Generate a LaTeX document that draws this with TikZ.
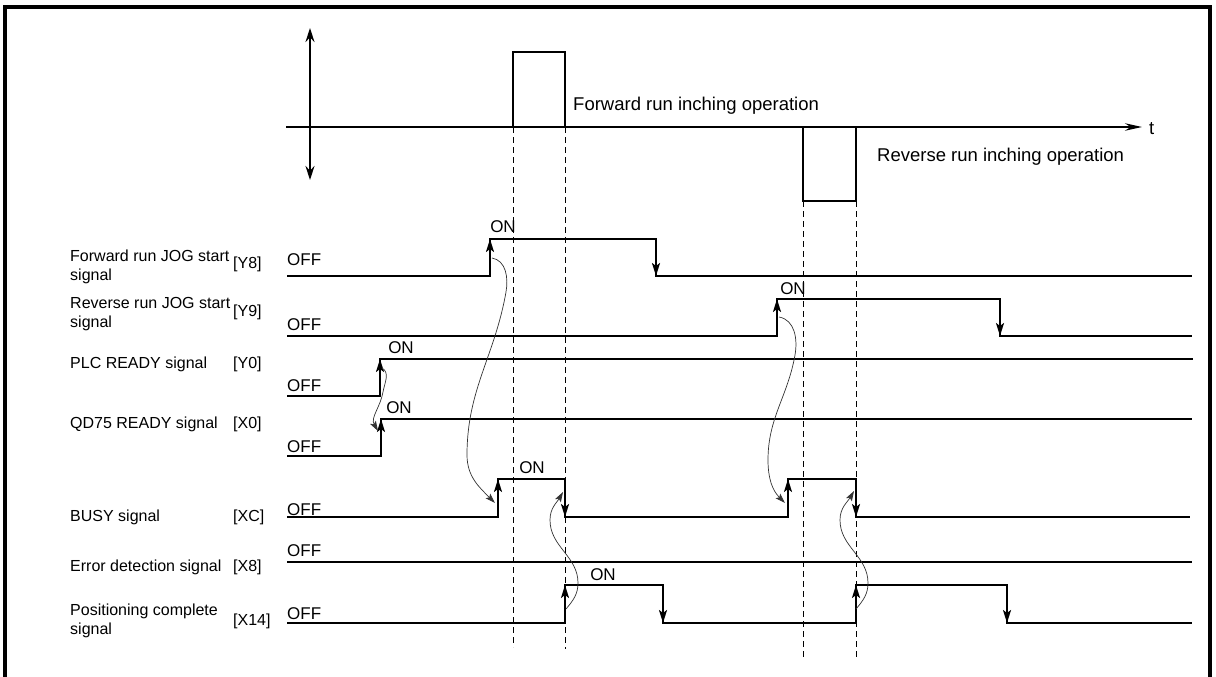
\documentclass[tikz,border=0pt]{standalone}
\usepackage{fontspec}
\setmainfont{Liberation Sans}
\usetikzlibrary{arrows.meta}
\begin{document}
\begin{tikzpicture}[x=1pt,y=1pt,
  frame/.style={line width=4pt},
  wave/.style={line width=2pt, line join=miter},
  edgearrow/.style={line width=2pt, -{Stealth[length=13pt,width=8pt,inset=3pt]}},
  axisline/.style={line width=1.3pt},
  pulse/.style={line width=1.8pt},
  guide/.style={line width=0.9pt, dash pattern=on 6pt off 4pt},
  cause/.style={line width=0.7pt, draw=black!80, -{Stealth[length=10pt,width=6.5pt,inset=2pt]}},
  lbl/.style={font=\fontsize{16}{19}\selectfont, inner sep=0pt, anchor=base west},
  brk/.style={font=\fontsize{16}{19}\selectfont, inner sep=0pt, anchor=west},
  offl/.style={font=\fontsize{17}{20}\selectfont, inner sep=0pt, anchor=base west},
  onl/.style={font=\fontsize{17}{20}\selectfont, inner sep=0pt},
  caption/.style={font=\fontsize{18.5}{22}\selectfont, inner sep=0pt, anchor=west},
]
\useasboundingbox (0,0) rectangle (1216,-677);

% frame
\draw[frame] (5,-677) -- (5,-7) -- (1210,-7) -- (1210,-677);

% axes
\draw[axisline, {Stealth[length=14pt,width=9pt]}-{Stealth[length=14pt,width=9pt]}] (310,-28) -- (310,-180);
\coordinate (axstart) at (286,-127);
\node[caption] (t) at (1149,-129) {t};
\draw[axisline, -{Stealth[length=17pt,width=7.5pt]}] (axstart) -- (1142,-127);

% pulses
\draw[pulse] (513,-127) -- (513,-52) -- (565,-52) -- (565,-127);
\draw[pulse] (803,-127) -- (803,-201) -- (856,-201) -- (856,-127);
\node[caption] (fwdop) at (573,-106) {Forward run inching operation};
\node[caption] (revop) at (877,-157) {Reverse run inching operation};

% guides
\draw[guide] (513,-127) -- (513,-647);
\draw[guide] (565,-127) -- (565,-649);
\draw[guide] (803,-201) -- (803,-657);
\draw[guide] (856,-201) -- (856,-657);

% left labels
\node[lbl] (l1a) at (70,-261) {Forward run JOG start};
\node[lbl] (l1b) at (70,-280) {signal};
\node[brk] (b1) at (233,-264) {[Y8]};
\node[lbl] (l2a) at (70,-308) {Reverse run JOG start};
\node[lbl] (l2b) at (70,-327) {signal};
\node[brk] (b2) at (233,-312) {[Y9]};
\node[lbl] (l3) at (70,-368) {PLC READY signal};
\node[lbl] (b3) at (233,-368) {[Y0]};
\node[lbl] (l4) at (70,-428) {QD75 READY signal};
\node[lbl] (b4) at (233,-428) {[X0]};
\node[lbl] (l5) at (70,-521) {BUSY signal};
\node[lbl] (b5) at (233,-521) {[XC]};
\node[lbl] (l6) at (70,-571) {Error detection signal};
\node[lbl] (b6) at (233,-571) {[X8]};
\node[lbl] (l7a) at (70,-615) {Positioning complete};
\node[lbl] (l7b) at (70,-634) {signal};
\node[brk] (b7) at (233,-621) {[X14]};

% OFF labels
\node[offl] (o1) at (287,-265) {OFF};
\node[offl] (o2) at (287,-330) {OFF};
\node[offl] (o3) at (287,-391) {OFF};
\node[offl] (o4) at (287,-452) {OFF};
\node[offl] (o5) at (287,-515) {OFF};
\node[offl] (o6) at (287,-556) {OFF};
\node[offl] (o7) at (287,-619) {OFF};

% ON labels
\node[onl] (n1) at (503,-227) {ON};
\node[onl] (n2) at (793,-289) {ON};
\node[onl] (n3) at (401,-348) {ON};
\node[onl] (n4) at (399,-408) {ON};
\node[onl] (n5) at (532,-468) {ON};
\node[onl] (n6) at (603,-575) {ON};

% waveforms
\draw[wave] (287,-276) -- (490,-276) -- (490,-239) -- (656,-239) -- (656,-276) -- (1192,-276);
\draw[edgearrow] (490,-276) -- (490,-239);
\draw[edgearrow] (656,-239) -- (656,-276);

\draw[wave] (287,-336) -- (777,-336) -- (777,-299) -- (1000,-299) -- (1000,-336) -- (1192,-336);
\draw[edgearrow] (777,-336) -- (777,-299);
\draw[edgearrow] (1000,-299) -- (1000,-336);

\draw[wave] (287,-396) -- (380,-396) -- (380,-359) -- (1193,-359);
\draw[edgearrow] (380,-396) -- (380,-359);

\draw[wave] (287,-456) -- (381,-456) -- (381,-419) -- (1192,-419);
\draw[edgearrow] (381,-456) -- (381,-419);

\draw[wave] (287,-517) -- (498,-517) -- (498,-479) -- (565,-479) -- (565,-517) -- (788,-517) -- (788,-479) -- (856,-479) -- (856,-517) -- (1190,-517);
\draw[edgearrow] (498,-517) -- (498,-479);
\draw[edgearrow] (565,-479) -- (565,-517);
\draw[edgearrow] (788,-517) -- (788,-479);
\draw[edgearrow] (856,-479) -- (856,-517);

\draw[wave] (287,-562) -- (1192,-562);

\draw[wave] (287,-623) -- (565,-623) -- (565,-585) -- (663,-585) -- (663,-623) -- (856,-623) -- (856,-585) -- (1007,-585) -- (1007,-623) -- (1192,-623);
\draw[edgearrow] (565,-623) -- (565,-585);
\draw[edgearrow] (663,-585) -- (663,-623);
\draw[edgearrow] (856,-623) -- (856,-585);
\draw[edgearrow] (1007,-585) -- (1007,-623);

% cause arrows
\coordinate (c1s) at (492,-258);
\coordinate (c1e) at (495,-503);
\draw[cause] (c1s) to[out=-10,in=80] (506,-292) to[out=-100,in=90] (467,-455) to[out=-90,in=135] (c1e);

\coordinate (c2s) at (779,-317);
\coordinate (c2e) at (785,-503);
\draw[cause] (c2s) to[out=-10,in=80] (795,-355) to[out=-100,in=90] (768,-460) to[out=-90,in=135] (c2e);

\coordinate (c3s) at (382,-368);
\coordinate (c3e) at (378,-431);
\draw[cause] (c3s) to[out=-30,in=80] (383,-392) to[out=-100,in=120] (c3e);

\coordinate (c4s) at (566,-609);
\coordinate (c4e) at (563,-492);
\draw[cause] (c4s) to[out=50,in=-90] (578,-583) to[out=90,in=-90] (550,-520) to[out=90,in=-120] (c4e);

\coordinate (c5s) at (856,-609);
\coordinate (c5e) at (854,-491);
\draw[cause] (c5s) to[out=50,in=-90] (868,-583) to[out=90,in=-90] (840,-520) to[out=90,in=-120] (c5e);
\end{tikzpicture}
\end{document}
